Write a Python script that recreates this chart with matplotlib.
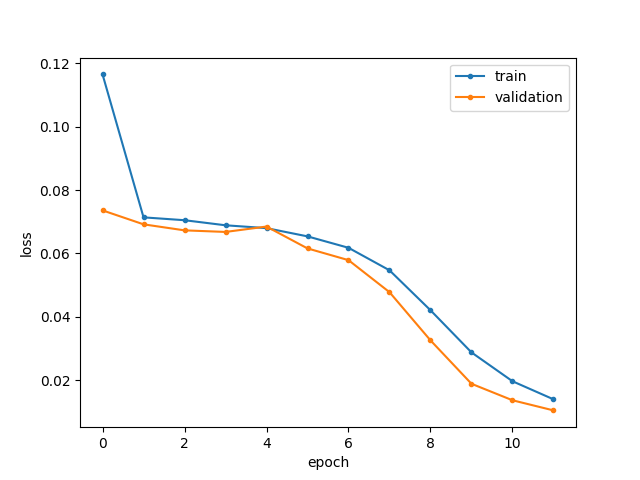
import matplotlib
matplotlib.use("Agg")
import matplotlib.pyplot as plt

epochs = list(range(12))
train = [0.1165, 0.0714, 0.0705, 0.0689, 0.0680, 0.0654, 0.0618, 0.0547, 0.0421, 0.0288, 0.0197, 0.0140]
validation = [0.0736, 0.0692, 0.0673, 0.0668, 0.0685, 0.0616, 0.0579, 0.0478, 0.0326, 0.0189, 0.0137, 0.0105]

fig, ax = plt.subplots(figsize=(6.4, 4.8), dpi=100)
ax.plot(epochs, train, marker='.', label='train')
ax.plot(epochs, validation, marker='.', label='validation')
ax.set_xlabel('epoch')
ax.set_ylabel('loss')
ax.legend()
fig.savefig('out.png')
